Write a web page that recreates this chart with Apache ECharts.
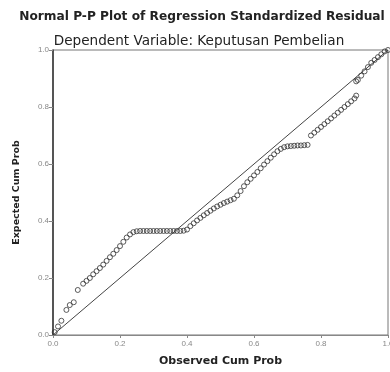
<!DOCTYPE html>
<html><head><meta charset="utf-8">
<script src="https://cdn.jsdelivr.net/npm/echarts@6/dist/echarts.min.js"></script>
<style>html,body{margin:0;padding:0;background:#fff}#c{width:390px;height:372px}</style>
</head><body><div id="c"></div>
<script>
var titleText = "Normal P-P Plot of Regression Standardized Residual";
var subtitleText = "Dependent Variable: Keputusan Pembelian";
var xName = "Observed Cum Prob";
var yName = "Expected Cum Prob";
var tickLabels = ["0.0","0.2","0.4","0.6","0.8","1.0"];
var observed = [0.005,0.015,0.025,0.04,0.05,0.062,0.074,0.09,0.10,0.11,0.12,0.13,0.14,0.15,0.16,0.17,0.18,0.19,0.20,0.21,0.22,0.23,0.24,
0.25,0.26,0.27,0.28,0.29,0.30,0.31,0.32,0.33,0.34,0.35,0.36,0.37,0.38,0.39,0.40,
0.41,0.42,0.43,0.44,0.45,0.46,0.47,0.48,0.49,0.50,0.51,0.52,0.53,0.54,0.55,0.56,0.57,0.58,0.59,0.60,0.61,0.62,0.63,0.64,0.65,0.66,0.67,0.68,0.69,0.70,0.71,0.72,0.73,0.74,0.75,0.76,
0.77,0.78,0.79,0.80,0.81,0.82,0.83,0.84,0.85,0.86,0.87,0.88,0.89,0.90,0.905,
0.905,0.91,0.92,0.93,0.94,0.95,0.96,0.97,0.98,0.99,1.0];
var expected = [0.01,0.03,0.05,0.088,0.105,0.115,0.158,0.18,0.19,0.20,0.213,0.224,0.235,0.247,0.26,0.273,0.285,0.298,0.312,0.327,0.342,0.353,0.361,
0.364,0.365,0.365,0.365,0.365,0.365,0.365,0.365,0.365,0.365,0.365,0.365,0.365,0.365,0.366,0.37,
0.382,0.392,0.402,0.411,0.42,0.428,0.436,0.444,0.451,0.457,0.463,0.468,0.473,0.478,0.49,0.505,0.522,0.536,0.548,0.56,0.572,0.585,0.598,0.61,0.622,0.634,0.645,0.653,0.659,0.662,0.663,0.664,0.665,0.665,0.666,0.667,
0.70,0.71,0.72,0.73,0.74,0.75,0.76,0.77,0.78,0.79,0.80,0.81,0.82,0.83,0.84,
0.89,0.895,0.91,0.925,0.94,0.955,0.965,0.975,0.985,0.995,1.0];
var diagonal = [[0,0],[1,1]];

var pts = observed.map(function(v,i){return [v, expected[i]];});
var chart = echarts.init(document.getElementById('c'));
var lblFmt = function(v){ var i = Math.round(v/0.2); return tickLabels[i]; };
chart.setOption({
  animation:false,
  backgroundColor:'#fff',
  title:[
    {text:titleText, left:197, top:6, textAlign:'center',
     textStyle:{fontFamily:'DejaVu Sans',fontSize:12.2,fontWeight:'bold',color:'#222'}},
    {text:subtitleText, left:194, top:29, textAlign:'center',
     textStyle:{fontFamily:'DejaVu Sans',fontSize:13.6,fontWeight:'normal',color:'#222'}}
  ],
  grid:{left:53, top:50, right:2, bottom:37, show:true, borderColor:'#777', borderWidth:1,
        outerBoundsMode:'none', containLabel:false},
  xAxis:{type:'value', min:0, max:1, interval:0.2,
    name:xName, nameLocation:'middle', nameGap:21,
    nameTextStyle:{fontFamily:'DejaVu Sans',fontSize:11,fontWeight:'bold',color:'#222'},
    axisLine:{onZero:false,lineStyle:{color:'#888',width:1}},
    axisTick:{show:true,length:3,lineStyle:{color:'#888'}},
    axisLabel:{formatter:lblFmt,fontFamily:'Liberation Sans',fontSize:8,color:'#888',margin:5},
    splitLine:{show:false}},
  yAxis:{type:'value', min:0, max:1, interval:0.2,
    name:yName, nameLocation:'middle', nameGap:31, nameRotate:90,
    nameTextStyle:{fontFamily:'DejaVu Sans',fontSize:9.5,fontWeight:'bold',color:'#222'},
    axisLine:{onZero:false,lineStyle:{color:'#333',width:1.5}},
    axisTick:{show:true,length:4,lineStyle:{color:'#888'}},
    axisLabel:{formatter:lblFmt,fontFamily:'Liberation Sans',fontSize:8,color:'#888',margin:4},
    splitLine:{show:false}},
  series:[
    {type:'line', data:diagonal, symbol:'none', lineStyle:{color:'#444',width:1}, z:2},
    {type:'scatter', data:pts, symbol:'circle', symbolSize:5,
     itemStyle:{color:'rgba(0,0,0,0)', borderColor:'#333', borderWidth:1}, z:3}
  ]
});
</script></body></html>
